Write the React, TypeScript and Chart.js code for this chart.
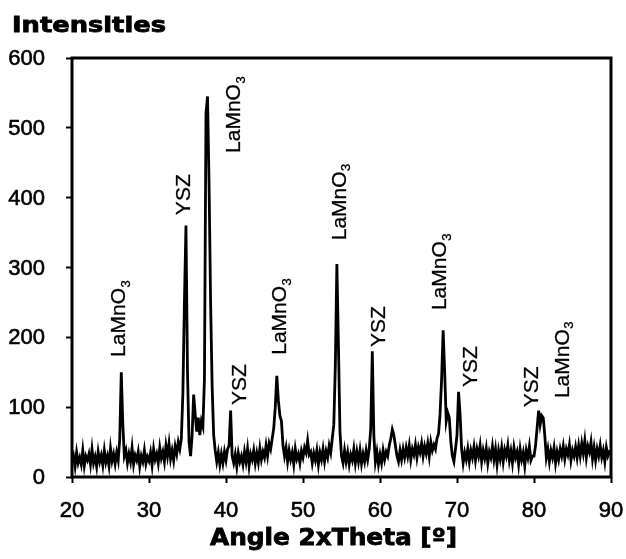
import React, { useEffect, useRef } from "react";
import { Chart, registerables } from "chart.js";

Chart.register(...registerables);

// 2-theta sampling: starts at 20°, one reading every 0.2°
const X_START = 20;
const X_STEP = 0.2;

// Intensity readings (20.0° … 90.0°, 0.2° apart; 10 values = 2°)
const intensities: number[] = [
  22, 30, 15, 35, 20, 28, 18, 38, 16, 30, // 20
  24, 33, 18, 40, 20, 29, 15, 36, 22, 31, // 22
  17, 38, 21, 30, 16, 41, 23, 33, 19, 35, // 24
  24, 55, 150, 75, 30, 38, 20, 33, 22, 42, // 26
  18, 31, 24, 36, 15, 30, 22, 38, 19, 29, // 28
  23, 35, 17, 40, 25, 33, 20, 42, 27, 36, // 30
  22, 45, 30, 48, 26, 38, 24, 44, 33, 50, // 32
  40, 55, 120, 250, 360, 150, 50, 30, 60, 118, // 34
  90, 65, 85, 60, 80, 72, 140, 520, 545, 420, // 36
  250, 130, 60, 38, 22, 35, 18, 33, 20, 36, // 38
  24, 40, 45, 95, 30, 20, 32, 15, 34, 22, // 40
  30, 18, 36, 22, 40, 16, 33, 25, 38, 20, // 42
  34, 21, 41, 25, 36, 28, 45, 30, 48, 40, // 44
  55, 70, 100, 145, 110, 88, 80, 45, 30, 42, // 46
  22, 38, 25, 35, 18, 40, 26, 33, 20, 37, // 48
  28, 42, 35, 52, 32, 36, 20, 34, 24, 38, // 50
  18, 35, 25, 40, 22, 37, 28, 45, 35, 55, // 52
  75, 160, 305, 190, 65, 30, 20, 38, 22, 35, // 54
  18, 32, 24, 40, 20, 36, 22, 38, 19, 33, // 56
  22, 38, 25, 40, 70, 180, 60, 22, 36, 18, // 58
  32, 20, 38, 25, 36, 30, 45, 55, 68, 60, // 60
  45, 30, 22, 38, 25, 40, 28, 42, 30, 45, // 62
  25, 40, 32, 46, 28, 43, 35, 48, 30, 44, // 64
  34, 48, 30, 50, 38, 46, 40, 55, 62, 90, // 66
  140, 210, 150, 80, 92, 85, 50, 30, 22, 40, // 68
  60, 122, 90, 40, 20, 35, 25, 40, 22, 38, // 70
  28, 43, 24, 40, 30, 45, 22, 38, 27, 41, // 72
  20, 36, 28, 44, 25, 40, 18, 38, 26, 42, // 74
  22, 39, 30, 45, 24, 37, 20, 42, 28, 36, // 76
  18, 40, 25, 35, 16, 38, 28, 44, 24, 30, // 78
  30, 45, 70, 95, 75, 88, 85, 60, 28, 40, // 80
  22, 38, 28, 42, 20, 36, 25, 40, 30, 44, // 82
  26, 40, 32, 46, 24, 38, 30, 43, 28, 45, // 84
  30, 48, 34, 52, 28, 44, 36, 50, 26, 42, // 86
  24, 40, 30, 45, 28, 38, 22, 42, 30, 36, // 88
  34, // 90
];

// Peak annotations: phase name, anchor angle, anchor intensity (text starts here)
const peakNames = ["LaMnO3", "YSZ", "LaMnO3", "YSZ", "LaMnO3", "LaMnO3", "YSZ", "LaMnO3", "YSZ", "YSZ", "LaMnO3"];
const peakLabelX = [25.97, 34.29, 40.9, 41.56, 46.88, 54.55, 59.74, 67.66, 71.56, 79.61, 83.51];
const peakLabelY = [172, 375, 464, 103, 175, 339, 186, 239, 129, 100, 113];

const X_MIN = 20;
const X_MAX = 90;
const X_TICK_STEP = 10;
const Y_MIN = 0;
const Y_MAX = 600;
const Y_TICK_STEP = 100;

const yAxisTitle = "Intensities";
const xAxisTitle = "Angle 2xTheta [º]";

const LABEL_FONT = '"Liberation Sans", Arial, sans-serif';
const TITLE_FONT = '"DejaVu Sans", sans-serif';

function drawFitted(ctx: CanvasRenderingContext2D, text: string, left: number, baseline: number, width: number) {
  const w = ctx.measureText(text).width;
  ctx.save();
  ctx.translate(left, baseline);
  ctx.scale(width / w, 1);
  ctx.textAlign = "left";
  ctx.textBaseline = "alphabetic";
  ctx.fillText(text, 0, 0);
  ctx.strokeText(text, 0, 0);
  ctx.restore();
}

function heavyText(ctx: CanvasRenderingContext2D, text: string, x: number, y: number) {
  ctx.fillText(text, x, y);
  ctx.strokeText(text, x, y);
}

const decorations = {
  id: "decorations",
  afterDatasetsDraw(chart: any) {
    const { ctx, chartArea, scales } = chart;
    const xs = scales.x;
    const ys = scales.y;
    ctx.save();
    // frame
    ctx.strokeStyle = "#000";
    ctx.lineWidth = 3;
    ctx.strokeRect(chartArea.left, chartArea.top, chartArea.right - chartArea.left, chartArea.bottom - chartArea.top);

    // tick labels from the library's tick lists
    ctx.fillStyle = "#000";
    ctx.lineWidth = 0.6;
    ctx.font = `22px ${LABEL_FONT}`;
    ctx.textAlign = "right";
    ctx.textBaseline = "middle";
    for (const t of ys.ticks) {
      heavyText(ctx, String(t.value), chartArea.left - 27, ys.getPixelForValue(t.value) + 1);
    }
    ctx.textAlign = "center";
    for (const t of xs.ticks) {
      heavyText(ctx, String(t.value), xs.getPixelForValue(t.value), chartArea.bottom + 34);
    }

    // peak labels (rotated)
    for (let i = 0; i < peakNames.length; i++) {
      const px = xs.getPixelForValue(peakLabelX[i]);
      const py = ys.getPixelForValue(peakLabelY[i]);
      const name = peakNames[i];
      const m = name.match(/^(.*?)(\d*)$/);
      const base = m ? m[1] : name;
      const sub = m ? m[2] : "";
      ctx.save();
      ctx.translate(px, py);
      ctx.rotate(-Math.PI / 2);
      ctx.textAlign = "left";
      ctx.textBaseline = "alphabetic";
      ctx.lineWidth = 0.3;
      ctx.font = `21px ${LABEL_FONT}`;
      heavyText(ctx, base, 0, 7.5);
      if (sub) {
        const w = ctx.measureText(base).width;
        ctx.font = `13px ${LABEL_FONT}`;
        heavyText(ctx, sub, w + 0.5, 12);
      }
      ctx.restore();
    }

    // axis titles
    ctx.fillStyle = "#000";
    ctx.lineWidth = 0.8;
    ctx.font = `bold 21px ${TITLE_FONT}`;
    drawFitted(ctx, yAxisTitle, 12, 32, 154);
    ctx.font = `bold 23px ${TITLE_FONT}`;
    drawFitted(ctx, xAxisTitle, 210, 545, 247);
    ctx.restore();
  },
};

export default function App() {
  const canvasRef = useRef<HTMLCanvasElement | null>(null);

  useEffect(() => {
    if (!canvasRef.current) return;
    const points = intensities.map((v, i) => ({ x: X_START + i * X_STEP, y: v }));
    const chart = new Chart(canvasRef.current, {
      type: "line",
      data: {
        datasets: [
          {
            data: points,
            borderColor: "#000",
            borderWidth: 2.8,
            pointRadius: 0,
            tension: 0,
            fill: false,
          },
        ],
      },
      options: {
        animation: false,
        responsive: true,
        maintainAspectRatio: false,
        layout: { padding: { top: 58, right: 15, left: 0, bottom: 0 } },
        plugins: {
          legend: { display: false },
          tooltip: { enabled: false },
          title: { display: false },
        },
        scales: {
          x: {
            type: "linear",
            min: X_MIN,
            max: X_MAX,
            border: { display: false },
            grid: {
              drawOnChartArea: false,
              drawTicks: true,
              tickLength: 6,
              tickWidth: 2,
              tickColor: "#000",
            },
            ticks: {
              stepSize: X_TICK_STEP,
              display: false,
            },
            afterFit: (scale: any) => {
              scale.height = 82;
            },
          },
          y: {
            type: "linear",
            min: Y_MIN,
            max: Y_MAX,
            border: { display: false },
            grid: {
              drawOnChartArea: false,
              drawTicks: true,
              tickLength: 6,
              tickWidth: 2,
              tickColor: "#000",
            },
            ticks: {
              stepSize: Y_TICK_STEP,
              display: false,
            },
            afterFit: (scale: any) => {
              scale.width = 72;
            },
          },
        },
      },
      plugins: [decorations],
    });
    return () => chart.destroy();
  }, []);

  return (
    <div style={{ position: "absolute", left: 0, top: 0, width: 626, height: 559, background: "#fff" }}>
      <canvas ref={canvasRef} />
    </div>
  );
}
